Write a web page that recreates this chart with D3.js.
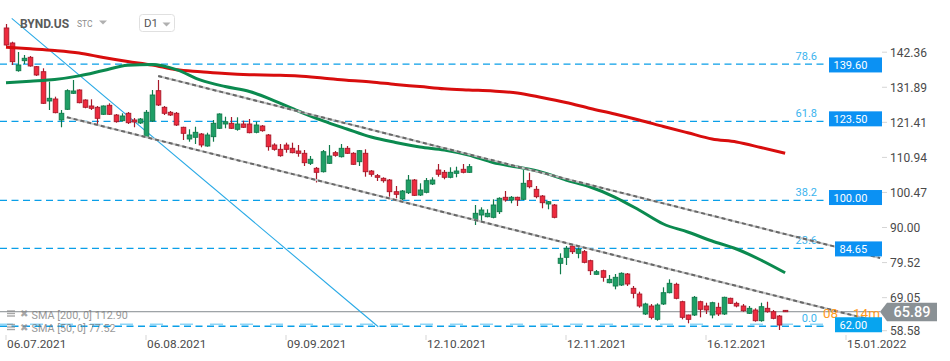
<!DOCTYPE html>
<html><head><meta charset="utf-8">
<script src="https://cdn.jsdelivr.net/npm/d3@7"></script>
<style>body{margin:0;background:#fff}svg{display:block;font-family:Roboto,"Noto Sans",sans-serif}</style>
</head><body><svg id="c" width="950" height="361"></svg>
<script>
// ---- data (BYND.US, D1) ----
const opens=[150.64,146.16,137.88,140.87,141.88,139.08,137.58,128.83,129.43,123.16,126.35,131.13,132.12,129.13,127.34,126.95,124.86,127.55,124.65,122.95,125.16,123.16,122.26,118.17,122.86,131.91,126.95,125.46,125.16,120.98,117.48,117.99,118.97,115.39,118.17,120.68,121.96,122.17,120.38,121.96,121.96,119.48,121.36,118.68,115.69,114.40,115.69,114.70,113.90,113.21,110.22,108.73,107.71,110.22,113.39,112.19,114.70,113.21,110.70,113.21,107.92,106.52,105.74,105.23,101.74,99.56,101.44,105.23,100.75,101.56,104.04,108.22,107.53,106.04,107.23,108.43,107.53,93.29,94.78,94.27,94.09,95.77,100.07,99.26,100.07,99.47,105.03,102.45,100.45,98.07,97.77,80.35,82.14,85.52,83.34,83.82,81.13,77.07,78.14,74.56,73.57,73.87,77.16,72.88,71.18,65.21,67.60,63.63,68.20,71.57,74.08,68.88,64.91,64.91,68.88,67.60,64.91,67.21,65.21,69.90,68.40,67.60,65.42,66.40,63.21,66.91,65.89,64.61,66.30];
const highs=[151.83,146.54,143.47,142.57,142.27,139.29,138.60,134.60,130.12,126.14,132.33,135.10,132.33,129.34,129.34,127.34,127.50,128.14,124.95,125.16,125.55,123.75,123.75,126.14,132.12,135.10,127.34,125.84,125.55,121.15,120.38,121.15,119.27,119.36,123.16,125.16,124.14,124.05,123.96,122.95,123.45,122.65,121.66,118.97,116.20,115.99,116.38,116.38,115.69,114.20,112.40,109.12,114.20,115.69,113.90,115.99,115.39,113.54,114.20,114.40,108.22,107.02,106.04,105.53,103.44,102.25,106.73,105.53,104.25,105.83,106.04,110.01,108.22,109.03,109.21,110.01,110.01,97.77,97.08,96.48,99.47,100.07,101.95,100.45,100.25,108.22,107.41,103.44,100.75,98.96,98.07,83.34,85.52,85.82,85.13,84.33,81.43,78.35,78.44,76.86,77.16,77.66,77.46,73.57,71.87,68.58,68.20,68.40,73.18,75.57,74.56,69.18,65.00,70.58,69.18,68.58,68.88,68.58,70.38,70.08,68.88,68.20,67.60,66.91,68.58,68.88,66.40,64.91,66.40];
const lows=[145.26,139.58,137.58,139.88,139.08,136.30,127.93,126.14,125.16,120.98,126.14,130.92,128.14,126.65,126.14,121.66,124.65,124.65,122.35,122.65,121.96,120.98,121.96,118.08,122.56,127.34,124.65,124.35,121.36,117.18,116.67,115.99,115.00,115.18,116.67,120.47,120.68,120.47,119.96,120.77,119.18,119.18,119.66,113.99,113.99,112.19,113.39,113.21,112.19,109.42,109.72,104.49,107.47,110.01,112.19,111.95,113.00,109.72,109.42,106.22,106.22,104.94,104.43,100.25,99.77,99.26,101.05,100.45,100.45,101.26,103.74,106.22,105.44,105.74,106.04,107.23,107.32,91.79,92.78,94.09,93.79,95.08,98.75,98.28,97.47,99.26,102.75,99.77,96.78,96.48,93.79,77.07,79.84,83.13,81.85,80.35,76.86,76.86,74.86,74.38,72.58,73.57,73.57,69.89,67.09,64.91,63.62,63.21,67.90,71.39,69.60,63.62,62.43,64.61,64.22,65.21,63.92,64.61,64.91,68.20,67.21,65.89,65.21,62.91,62.91,65.60,63.63,60.43,65.80];
const closes=[145.56,140.57,139.58,141.59,139.29,136.60,128.14,129.64,125.34,125.16,131.91,131.82,128.32,126.95,126.65,123.66,127.34,124.86,122.65,124.35,122.35,122.56,123.45,125.46,130.62,127.64,125.16,124.65,121.66,119.18,118.68,119.48,115.69,118.68,122.17,124.95,122.65,120.68,121.96,120.98,119.36,121.66,119.96,115.18,114.40,112.49,114.40,113.39,113.21,110.40,111.42,107.53,113.69,112.40,112.61,114.70,113.21,109.92,113.99,107.71,106.94,106.04,105.02,101.74,100.96,101.95,105.23,100.66,102.25,105.03,105.23,106.94,106.04,107.53,107.92,107.53,109.21,95.29,96.27,95.29,97.77,99.77,99.26,100.07,99.26,104.25,103.23,100.25,98.45,98.75,94.09,81.85,84.83,83.82,84.53,80.65,78.14,77.84,76.17,75.57,76.17,77.37,74.17,71.39,67.60,68.20,64.22,67.90,71.57,74.38,69.90,64.22,63.62,70.20,66.61,66.40,68.58,65.21,70.20,68.40,67.60,66.19,66.91,63.21,67.39,65.89,63.92,61.92,65.89];

const smaIdx=[0,4,8,12,16,20,24,28,32,36,40,44,48,52,56,60,64,68,72,76,80,84,88,92,96,100,104,108,112,116,120,124,128];
const sma200=[144.87,144.42,143.92,143.17,141.82,140.63,139.58,138.15,137.58,137.04,136.69,136.53,136.30,135.70,135.01,134.50,133.76,133.15,132.48,132.12,131.82,131.22,129.88,128.38,126.59,124.95,123.16,121.21,119.33,117.48,116.58,114.94,113.20];
const sma50=[134.30,134.75,135.25,136.33,137.94,139.52,139.73,138.22,135.04,133.14,131.67,128.96,125.84,122.98,120.47,118.06,116.44,115.07,114.20,112.68,110.46,109.10,107.60,105.23,103.14,100.15,96.27,92.09,89.70,87.01,84.63,81.34,77.52];

const priceTicks=[142.36,131.89,121.41,110.94,100.47,90.00,79.52,69.05,58.58];
const dateTickIdx=[0,23,46,69,92,115,138];
const dateLabels=["06.07.2021","06.08.2021","09.09.2021","12.10.2021","12.11.2021","16.12.2021","15.01.2022"];

const fibNames=["78.6","61.8","38.2","23.6","0.0"];
const fibLinePrices=[139.85,122.77,99.17,84.83,61.55];
const levelBoxes=[139.60,123.50,100.00,84.65,62.00];
const upperTrend=[[25,136.30],[143.6,81.94]];
const lowerTrend=[[10,124.0],[142.2,63.42]];
const blueTrend=[[0.94,153.53],[61.16,61.41]];
const supportLine=62.13;
const lastPrice=65.89;
const smaLegend=["SMA  [200,  0]  112.90","SMA  [50,  0]  77.52"];
const countdown=["08","14m"];

// ---- scales ----
const svg=d3.select("#c");
const x=d3.scaleLinear().domain([0,128]).range([6,6+128*6.087]);
const y=d3.scaleLinear().domain([58.58,142.36]).range([336.2,55.7]);
const PLOT_R=824;

svg.append("rect").attr("width",950).attr("height",361).attr("fill","#fff");

// fib levels
const fibG=svg.append("g");
fibLinePrices.forEach((p,i)=>{
  fibG.append("line").attr("x1",0).attr("x2",PLOT_R).attr("y1",y(p)).attr("y2",y(p))
    .attr("stroke","#0a9fe8").attr("stroke-width",1.3).attr("stroke-dasharray","7,4.5");
  fibG.append("text").attr("x",817).attr("y",y(p)-4.5).attr("text-anchor","end")
    .attr("font-size",11).attr("fill","#3bb4ee").text(fibNames[i]);
});
fibG.append("line").attr("x1",0).attr("x2",PLOT_R).attr("y1",y(supportLine)).attr("y2",y(supportLine))
  .attr("stroke","#8fd6f7").attr("stroke-width",1.6).attr("stroke-dasharray","13,17");

// current price line
svg.append("line").attr("x1",0).attr("x2",880).attr("y1",y(lastPrice)).attr("y2",y(lastPrice))
  .attr("stroke","#858b8f").attr("stroke-width",1);

// blue thin trend line
const lineXY=d3.line().x(d=>x(d[0])).y(d=>y(d[1]));
svg.append("path").attr("d",lineXY(blueTrend)).attr("stroke","#2aaae6").attr("stroke-width",1.1).attr("fill","none");

// candles
const n=opens.length;
const cg=svg.append("g");
for(let i=0;i<n;i++){
  const up=closes[i]>=opens[i];
  const fill=up?"#1f9f66":"#ee2a3e", stroke=up?"#0f7a4a":"#a8192a";
  const cx=Math.round(x(i))+0.5;
  cg.append("line").attr("x1",cx).attr("x2",cx).attr("y1",y(highs[i])).attr("y2",y(lows[i]))
    .attr("stroke",stroke).attr("stroke-width",1.2);
  const top=y(Math.max(opens[i],closes[i])), bot=y(Math.min(opens[i],closes[i]));
  cg.append("rect").attr("x",cx-2.3).attr("width",4.6).attr("y",top).attr("height",Math.max(1,bot-top))
    .attr("fill",fill).attr("stroke",stroke).attr("stroke-width",0.9);
}

// SMAs
const smaLine=d3.line().x((d,i)=>x(smaIdx[i])).y(d=>y(d)).curve(d3.curveMonotoneX);
svg.append("path").attr("d",smaLine(sma200)).attr("stroke","#d80d0d").attr("stroke-width",3).attr("fill","none").attr("stroke-linejoin","round");
svg.append("path").attr("d",smaLine(sma50)).attr("stroke","#0b8a4f").attr("stroke-width",3).attr("fill","none").attr("stroke-linejoin","round");

// grey trend channel
[upperTrend,lowerTrend].forEach(t=>{
  svg.append("path").attr("d",lineXY(t)).attr("stroke","#c4c4c4").attr("stroke-width",2).attr("fill","none");
  svg.append("path").attr("d",lineXY(t)).attr("stroke","#676767").attr("stroke-width",2).attr("fill","none").attr("stroke-dasharray","4,3");
});

// countdown (orange), partly hidden behind the level box as in the platform
svg.append("text").attr("x",823).attr("y",317.5).attr("font-size",13.5).attr("fill","#ff9a1f").text(countdown[0]);
svg.append("text").attr("x",853).attr("y",317.5).attr("font-size",13.5).attr("fill","#ff9a1f").text(countdown[1]);

// level boxes (right aligned, width from text)
levelBoxes.forEach(v=>{
  const g=svg.append("g");
  const r=g.append("rect").attr("y",y(v)-7.5).attr("height",15).attr("fill",v===62?"#07a4ef":"#0b91f3");
  const t=g.append("text").attr("y",y(v)+4).attr("font-size",11).attr("fill","#fff").text(v.toFixed(2));
  const w=t.node().getComputedTextLength();
  const bw=Math.round(w+19);
  r.attr("x",882-bw).attr("width",bw);
  t.attr("x",882-bw+4.5);
});

// price axis
priceTicks.forEach((v,i)=>{
  const ty=y(v)-(i===priceTicks.length-1?5.5:3.5);
  svg.append("line").attr("x1",882).attr("x2",887).attr("y1",ty).attr("y2",ty).attr("stroke","#d5d5d5");
  svg.append("text").attr("x",890).attr("y",ty+4.3).attr("font-size",12).attr("fill","#4a4a4a").text(v.toFixed(2));
});

// last price tag
const ly=y(lastPrice);
svg.append("path").attr("d",`M880,${ly} L887,${ly-9} L937,${ly-9} L937,${ly+9.5} L887,${ly+9.5} Z`).attr("fill","#8a9195");
svg.append("text").attr("x",912).attr("y",ly+5.2).attr("text-anchor","middle").attr("font-size",14.5).attr("font-weight",500).attr("fill","#fff").text(lastPrice.toFixed(2));

// date axis
dateTickIdx.forEach((d,i)=>{
  const tx=Math.round(x(d));
  svg.append("line").attr("x1",tx).attr("x2",tx).attr("y1",335).attr("y2",340).attr("stroke","#d5d5d5");
  svg.append("text").attr("x",tx+1).attr("y",347.8).attr("font-size",11.8).attr("fill","#4a4a4a").text(dateLabels[i]);
});

// legend
smaLegend.forEach((t,i)=>{
  const ly2=313.5+i*13.5;
  const g=svg.append("g").attr("opacity",0.75);
  [-2.5,0,2.5].forEach(o=>g.append("line").attr("x1",7).attr("x2",15).attr("y1",ly2+o).attr("y2",ly2+o).attr("stroke","#8a8a8a").attr("stroke-width",1.4));
  g.append("text").attr("x",23.5).attr("y",ly2+3.5).attr("text-anchor","middle").attr("font-size",10).attr("fill","#8a8a8a").text("✖");
  g.append("text").attr("x",31.5).attr("y",ly2+5).attr("font-size",10.8).attr("fill","#777").text(t);
});

// header
svg.append("text").attr("x",20).attr("y",27.5).attr("font-size",12).attr("font-weight",700).attr("fill","#5a5a5a").text("BYND.US");
svg.append("text").attr("x",77).attr("y",27).attr("font-size",8.5).attr("fill","#8c8c8c").text("STC");
svg.append("path").attr("d","M99,20.5 L107,20.5 L103,24.5 Z").attr("fill","#b0b0b0");
svg.append("rect").attr("x",139.5).attr("y",14.5).attr("width",35).attr("height",17).attr("rx",3).attr("fill","#fff").attr("stroke","#e0e0e0");
svg.append("text").attr("x",144).attr("y",27.3).attr("font-size",11.5).attr("fill","#555").text("D1");
svg.append("path").attr("d","M162.5,22.5 L170.5,22.5 L166.5,26.5 Z").attr("fill","#b0b0b0");
</script></body></html>
